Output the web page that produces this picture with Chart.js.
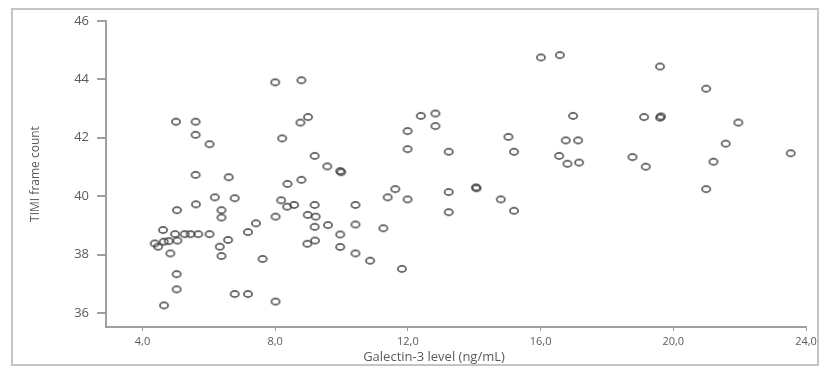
<!DOCTYPE html>
<html>
<head>
<meta charset="utf-8">
<script src="https://cdn.jsdelivr.net/npm/chart.js@4"></script>
<style>
  html, body { margin: 0; padding: 0; background: #fff; }
  #chart { display: block; }
</style>
</head>
<body>
<canvas id="chart" width="825" height="369"></canvas>
<script>
// Galectin-3 level (ng/mL) vs TIMI frame count
let galectin = [
    8.00, 8.79, 5.01, 5.60, 5.60, 6.02, 8.99, 8.76, 8.21, 9.19,
    9.57, 9.96, 9.99, 5.60, 6.60, 8.37, 8.79, 6.18, 6.78, 5.04,
    5.61, 6.38, 6.38, 8.18, 8.36, 8.57, 9.19, 8.01, 8.98, 9.22,
    9.19, 9.59, 9.96, 9.96, 7.42, 7.18, 6.58, 6.33, 6.38, 7.62,
    8.97, 9.20, 4.62, 4.98, 5.27, 5.45, 5.68, 6.02, 4.64, 5.05,
    4.37, 4.47, 4.79, 4.84, 5.03, 5.03, 4.65, 6.78, 7.18, 8.01,
    10.42, 10.42, 11.26, 10.42, 10.86, 11.82, 11.62, 11.39, 11.99, 13.23,
    14.05, 14.07, 14.80, 13.23, 15.20, 16.01, 16.58, 12.39, 12.83, 12.83,
    11.99, 11.99, 13.23, 15.03, 15.20, 16.98, 16.76, 17.13, 16.56, 16.81,
    17.16, 19.60, 20.99, 19.12, 19.60, 19.63, 21.96, 21.58, 23.54, 18.77,
    19.17, 21.21, 20.99
];
let timi = [
    43.90, 43.97, 42.55, 42.55, 42.10, 41.78, 42.71, 42.52, 41.98, 41.38,
    41.02, 40.86, 40.82, 40.73, 40.65, 40.42, 40.56, 39.96, 39.93, 39.52,
    39.72, 39.52, 39.27, 39.86, 39.64, 39.70, 39.70, 39.30, 39.36, 39.30,
    38.95, 39.01, 38.69, 38.26, 39.07, 38.77, 38.50, 38.27, 37.95, 37.85,
    38.37, 38.48, 38.84, 38.70, 38.70, 38.70, 38.70, 38.70, 38.44, 38.48,
    38.38, 38.27, 38.46, 38.04, 37.33, 36.81, 36.26, 36.65, 36.65, 36.39,
    39.70, 39.03, 38.90, 38.04, 37.79, 37.51, 40.24, 39.96, 39.89, 40.14,
    40.30, 40.27, 39.89, 39.45, 39.50, 44.75, 44.83, 42.75, 42.83, 42.40,
    42.23, 41.61, 41.52, 42.03, 41.52, 42.75, 41.91, 41.91, 41.38, 41.11,
    41.15, 44.44, 43.68, 42.71, 42.69, 42.73, 42.52, 41.80, 41.47, 41.34,
    41.01, 41.18, 40.24
];

let xTicks = [4, 8, 12, 16, 20, 24];
let yTicks = [36, 38, 40, 42, 44, 46];

let xTitle = "Galectin-3 level (ng/mL)";
let yTitle = "TIMI frame count";

let canvas = document.getElementById("chart");
let ctx = canvas.getContext("2d");

let points = galectin.map((g, i) => ({ x: g, y: timi[i] }));

const textColor = "#5a5a5a";
const axisColor = "#a0a0a0";
const fontFamily = "'Open Sans', 'DejaVu Sans', sans-serif";

// small hollow ellipse like the SPSS marker
const marker = document.createElement("canvas");
marker.width = 12;
marker.height = 10;
{
    const m = marker.getContext("2d");
    m.strokeStyle = "rgba(60,60,60,0.85)";
    m.lineWidth = 1.7;
    m.beginPath();
    m.ellipse(6, 5, 4.1, 3.1, 0, 0, Math.PI * 2);
    m.stroke();
}

// white page, grey frame and the x title placed like the original
const framePlugin = {
    id: "frame",
    beforeDraw(chart) {
        const c = chart.ctx;
        c.save();
        c.fillStyle = "#ffffff";
        c.fillRect(0, 0, chart.width, chart.height);
        c.strokeStyle = "#c4c4c4";
        c.lineWidth = 2;
        c.strokeRect(12, 9, 806, 356);
        c.restore();
    },
    afterDraw(chart) {
        const c = chart.ctx;
        c.save();
        c.fillStyle = textColor;
        c.font = "13px " + fontFamily;
        c.textAlign = "center";
        c.textBaseline = "middle";
        c.fillText(xTitle, 434, 357);
        c.restore();
    }
};

new Chart(ctx, {
    type: "scatter",
    data: {
        datasets: [{
            data: points,
            pointStyle: marker,
            pointRadius: 5
        }]
    },
    options: {
        responsive: false,
        animation: false,
        events: [],
        layout: {
            padding: { left: 12, top: 21, right: 19, bottom: 4 }
        },
        plugins: {
            legend: { display: false },
            tooltip: { enabled: false }
        },
        scales: {
            x: {
                type: "linear",
                min: 2.9,
                max: 24,
                afterBuildTicks: (scale) => {
                    scale.ticks = xTicks.map(v => ({ value: v }));
                },
                afterFit: (scale) => { scale.height = 38; },
                ticks: {
                    color: textColor,
                    font: { family: fontFamily, size: 11 },
                    padding: 4,
                    maxRotation: 0,
                    callback: (v) => Number(v).toFixed(1).replace(".", ",")
                },
                grid: {
                    display: true,
                    drawOnChartArea: false,
                    tickLength: 4,
                    color: axisColor
                },
                border: { display: true, color: axisColor, width: 2 },
                title: { display: false }
            },
            y: {
                type: "linear",
                min: 35.52,
                max: 46,
                afterBuildTicks: (scale) => {
                    scale.ticks = yTicks.map(v => ({ value: v }));
                },
                afterFit: (scale) => { scale.width = 94; },
                ticks: {
                    color: textColor,
                    font: { family: fontFamily, size: 13 },
                    padding: 8
                },
                grid: {
                    display: true,
                    drawOnChartArea: false,
                    tickLength: 9,
                    color: axisColor,
                    lineWidth: 2
                },
                border: { display: true, color: axisColor, width: 2 },
                title: {
                    display: true,
                    text: yTitle,
                    color: textColor,
                    font: { family: fontFamily, size: 12 },
                    padding: { top: 16, bottom: 0 }
                }
            }
        }
    },
    plugins: [framePlugin]
});
</script>
</body>
</html>
